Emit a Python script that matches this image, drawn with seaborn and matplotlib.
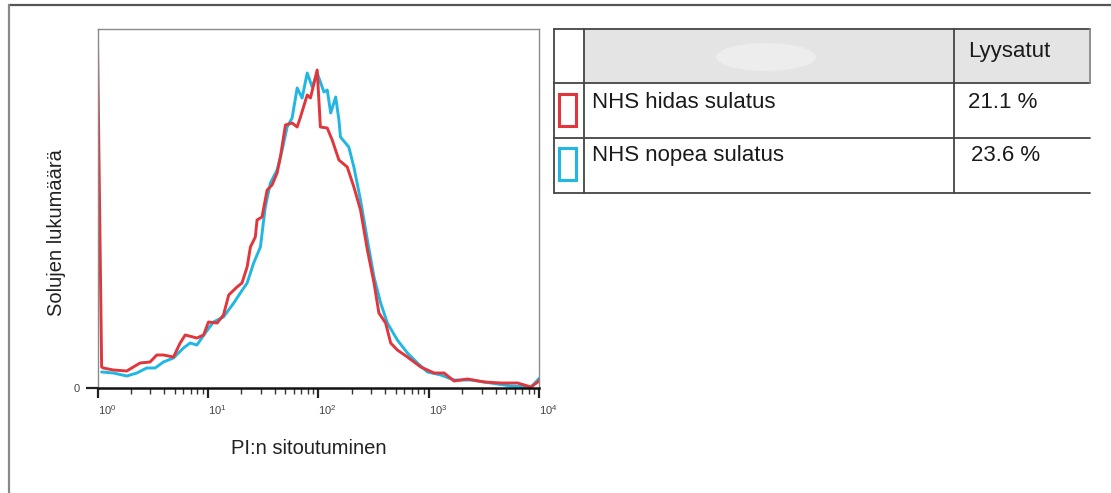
import numpy as np
import pandas as pd
import matplotlib
matplotlib.use("Agg")
import matplotlib.pyplot as plt
import seaborn as sns
from matplotlib.patches import Rectangle, Ellipse
from matplotlib.lines import Line2D
from matplotlib.ticker import LogLocator, NullFormatter, FixedLocator

# ---------------- data ----------------
hidas_x = [1.00, 1.09, 1.13, 1.39, 1.84, 2.11, 2.43, 2.99, 3.44, 3.95, 4.87, 5.60, 6.22, 7.94,
           9.12, 10.1, 12.1, 13.8, 15.4, 18.3, 20.3, 22.6, 24.2, 26.8, 27.8, 30.8, 34.3, 38.0,
           42.2, 45.2, 50.2, 57.7, 64.1, 68.7, 79.0, 84.6, 97.3, 104, 120, 133, 153, 182, 209,
           240, 277, 318, 352, 405, 450, 517, 638, 842, 1112, 1370, 1687, 2232, 3158, 4477,
           6340, 8375, 9640, 10000]
hidas_y = [346, 21, 20, 18, 17, 21, 25, 26, 33, 33, 31, 45, 53, 50,
           53, 66, 65, 73, 93, 101, 105, 121, 141, 151, 168, 171, 198, 203,
           215, 231, 263, 265, 261, 271, 293, 290, 318, 261, 260, 248, 228, 221, 201,
           178, 138, 105, 75, 65, 45, 38, 31, 21, 15, 15, 7, 9, 6, 5,
           5, 1, 6, 8]

nopea_x = [1.09, 1.39, 1.84, 2.27, 2.79, 3.32, 3.95, 4.87, 6.00, 6.90, 7.94, 9.44, 11.2, 13.8,
           17.1, 19.6, 22.6, 25.9, 29.8, 33.0, 36.7, 42.2, 46.9, 52.0, 57.7, 64.1, 71.1, 79.0,
           87.7, 97.3, 112, 120, 129, 143, 153, 158, 188, 209, 240, 277, 318, 365, 420, 517,
           638, 786, 968, 1278, 1687, 2392, 3632, 5510, 8375, 9640, 10000]
nopea_y = [16, 15, 12, 15, 20, 20, 26, 30, 40, 45, 43, 55, 66, 71,
           85, 95, 105, 125, 141, 181, 205, 218, 238, 261, 270, 300, 290, 315,
           301, 315, 296, 298, 275, 291, 268, 251, 241, 221, 188, 148, 111, 85, 65, 48,
           35, 25, 16, 13, 8, 8, 5, 2, 1, 8, 10]

series_names = ["NHS hidas sulatus", "NHS nopea sulatus"]
lysed_pct = ["21.1 %", "23.6 %"]
table_header = "Lyysatut"
x_label = "PI:n sitoutuminen"
y_label = "Solujen lukumäärä"

red = "#e0363c"
blue = "#22b6e2"

df = pd.concat([
    pd.DataFrame({"PI": nopea_x, "count": nopea_y, "sample": series_names[1]}),
    pd.DataFrame({"PI": hidas_x, "count": hidas_y, "sample": series_names[0]}),
], ignore_index=True)

# ---------------- figure ----------------
sns.set_theme(style="white")
plt.rcParams["font.family"] = ["Liberation Sans", "DejaVu Sans"]

W, H = 1111, 493
fig = plt.figure(figsize=(W / 100, H / 100), dpi=100)
fig.patch.set_facecolor("white")

def fx(x):
    return x / W

def fy(y):
    return 1 - y / H

ax_l, ax_r, ax_t, ax_b = 97.5, 539.5, 29.3, 388.0
ax_w, ax_h = ax_r - ax_l, ax_b - ax_t
ax = fig.add_axes([fx(ax_l), fy(ax_b), fx(ax_r) - fx(ax_l), fy(ax_t) - fy(ax_b)])

sns.lineplot(data=df, x="PI", y="count", hue="sample",
             hue_order=[series_names[1], series_names[0]],
             palette={series_names[0]: red, series_names[1]: blue},
             linewidth=2.1, ax=ax, legend=False, estimator=None, sort=False)

ax.set_xscale("log")
ax.set_xlim(1, 1e4)
ax.set_ylim(0, ax_h)

ax.xaxis.set_major_locator(LogLocator(base=10, numticks=10))
ax.xaxis.set_minor_locator(LogLocator(base=10, subs=np.arange(2, 10), numticks=50))
ax.xaxis.set_minor_formatter(NullFormatter())
ax.yaxis.set_major_locator(FixedLocator([0]))
ax.set_yticklabels(["0"])

ax.tick_params(axis="x", which="major", direction="out", length=7, width=1.6,
               color="#222222", labelsize=8, labelcolor="#444444", pad=4, bottom=True)
ax.tick_params(axis="x", which="minor", direction="out", length=4, width=1.0,
               color="#333333", bottom=True)
ax.tick_params(axis="y", which="major", direction="out", length=9, width=1.6,
               color="#222222", labelsize=8, labelcolor="#444444", pad=4, left=True)

fig.canvas.draw()
xt_labels = ax.get_xticklabels()
for i, lab in enumerate(xt_labels):
    lab.set_ha("right" if i == len(xt_labels) - 1 else "left")

for side in ["left", "top", "right"]:
    ax.spines[side].set_color("#8a8a8a")
    ax.spines[side].set_linewidth(1.0)
ax.spines["bottom"].set_color("#111111")
ax.spines["bottom"].set_linewidth(1.8)

ax.set_xlabel(x_label, fontsize=14.5, color="#222222")
ax.set_ylabel(y_label, fontsize=14.5, color="#222222")
ax.xaxis.set_label_coords((309 - ax_l) / ax_w, -(448 - ax_b) / ax_h)
ax.xaxis.label.set_va("center")
ax.yaxis.set_label_coords((57 - ax_l) / ax_w, (ax_b - 233) / ax_h)
ax.yaxis.label.set_va("center")

# ---------------- table-style legend ----------------
t_left, c1, c2, t_right = 553.8, 583.7, 954.4, 1089.5
t_top, h_bot, r1_bot, r2_bot = 29.3, 83.3, 138.3, 193.3
line_c = "#444444"

fig.add_artist(Rectangle((fx(c1), fy(h_bot)), fx(t_right) - fx(c1), fy(t_top) - fy(h_bot),
                         transform=fig.transFigure, facecolor="#e4e4e4", edgecolor="none"))
fig.add_artist(Ellipse((fx(766), fy(57)), fx(100), (28 / H), transform=fig.transFigure,
                       facecolor="#ededed", edgecolor="none"))

def hline(y, x0, x1, lw=1.3, c=line_c):
    fig.add_artist(Line2D([fx(x0), fx(x1)], [fy(y), fy(y)], transform=fig.transFigure,
                          color=c, linewidth=lw))

def vline(x, y0, y1, lw=1.3, c=line_c):
    fig.add_artist(Line2D([fx(x), fx(x)], [fy(y0), fy(y1)], transform=fig.transFigure,
                          color=c, linewidth=lw))

hline(t_top, t_left, t_right)
hline(h_bot, t_left, t_right)
hline(r1_bot, t_left, t_right)
hline(r2_bot, t_left, t_right)
vline(t_left, t_top, r2_bot)
vline(c1, t_top, r2_bot)
vline(c2, t_top, r2_bot)
vline(t_right, t_top, h_bot, c="#888888")

fig.text(fx(968), fy(52), table_header, fontsize=16, color="#1a1a1a", va="center", ha="left")

row_centers = [102, 155.5]
box_colors = [red, blue]
val_x = [968, 971]
for i in range(2):
    yc = row_centers[i]
    fig.add_artist(Rectangle((fx(558.5), fy(yc + 24)), fx(17.5), 32 / H,
                             transform=fig.transFigure, facecolor="none",
                             edgecolor=box_colors[i], linewidth=2.2))
    fig.text(fx(592.5), fy(yc), series_names[i], fontsize=16, color="#1a1a1a",
             va="center", ha="left")
    fig.text(fx(val_x[i]), fy(yc), lysed_pct[i], fontsize=16, color="#1a1a1a",
             va="center", ha="left")

# ---------------- outer frame ----------------
fig.add_artist(Line2D([fx(9), fx(1111)], [fy(5), fy(5)], transform=fig.transFigure,
                      color="#555555", linewidth=1.6))
fig.add_artist(Line2D([fx(9), fx(9)], [fy(5), fy(493)], transform=fig.transFigure,
                      color="#888888", linewidth=1.6))

fig.savefig("out.png", dpi=100, facecolor="white")
